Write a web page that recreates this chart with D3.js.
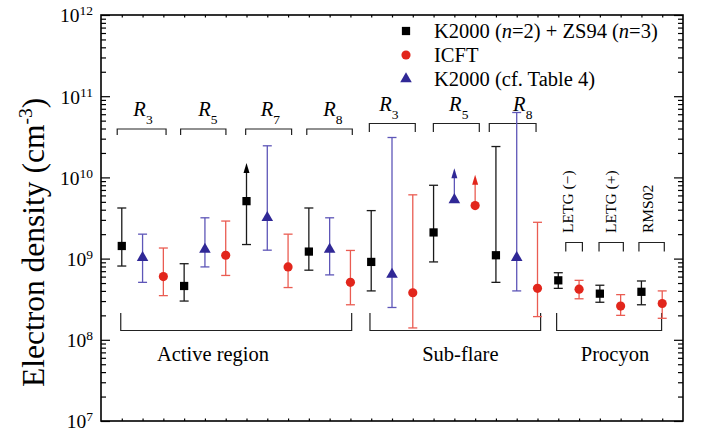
<!DOCTYPE html>
<html>
<head>
<meta charset="utf-8">
<script src="https://cdn.jsdelivr.net/npm/d3@7"></script>
<style>
body { margin: 0; background: #fff; }
</style>
</head>
<body>
<div class="graph"></div>
<script>
/*--------------- DATA -------------*/

// K2000 (n=2) + ZS94 (n=3): black squares
const sqIdx = [1, 4, 7, 10, 13, 16, 19, 22, 24, 26];
const sqVal = [1.43e9, 4.6e8, 5.1e9, 1.22e9, 9.1e8, 2.1e9, 1.1e9, 5.4e8, 3.7e8, 3.9e8];
const sqLo  = [8.1e8, 3.0e8, 1.49e9, 7.2e8, 4.0e8, 9.1e8, 5.1e8, 4.3e8, 2.9e8, 2.7e8];
const sqHi  = [4.2e9, 8.65e8, 1.5e10, 4.2e9, 3.9e9, 8.0e9, 2.4e10, 6.7e8, 4.7e8, 5.3e8];
const sqLim = [0, 0, 1, 0, 0, 0, 0, 0, 0, 0];   // 1 = lower limit (arrow up to hi)

// ICFT: red circles
const ciIdx = [3, 6, 9, 12, 15, 18, 21, 23, 25, 27];
const ciVal = [6.0e8, 1.1e9, 7.9e8, 5.1e8, 3.8e8, 4.5e9, 4.3e8, 4.2e8, 2.6e8, 2.8e8];
const ciLo  = [3.5e8, 6.2e8, 4.4e8, 2.7e8, 1.4e8, null, 1.93e8, 3.2e8, 2.0e8, 1.84e8];
const ciHi  = [1.35e9, 2.9e9, 2.0e9, 1.26e9, 6.1e9, 1.08e10, 2.8e9, 5.4e8, 3.6e8, 4.0e8];
const ciLim = [0, 0, 0, 0, 0, 1, 0, 0, 0, 0];

// K2000 (cf. Table 4): blue triangles
const trIdx = [2, 5, 8, 11, 14, 17, 20];
const trVal = [1.03e9, 1.3e9, 3.2e9, 1.3e9, 6.4e8, 5.3e9, 1.03e9];
const trLo  = [5.1e8, 7.9e8, 1.27e9, 6.3e8, 2.5e8, null, 4.0e8];
const trHi  = [2.0e9, 3.18e9, 2.45e10, 3.18e9, 3.1e10, 1.3e10, 6.3e10];
const trLim = [0, 0, 0, 0, 0, 1, 0];

// y tick decades
const yTickExp = [7, 8, 9, 10, 11, 12];

// line ratio brackets (x in point index units)
const ratioSub  = ["3", "5", "7", "8", "3", "5", "8"];
const ratioFrom = [0.78, 3.83, 6.96, 9.90, 12.91, 15.99, 18.68];
const ratioTo   = [3.13, 6.01, 9.17, 12.09, 15.12, 18.20, 20.93];
const ratioAt   = [2.02, 5.14, 8.15, 11.15, 13.85, 17.21, 20.29];

// Procyon instrument brackets
const procLabels = ["LETG (\u2212)", "LETG (+)", "RMS02"];
const procFrom   = [22.36, 23.96, 25.88];
const procTo     = [23.16, 25.13, 27.10];
const procAt     = [22.71, 24.78, 26.55];

// source groups
const groupLabels = ["Active region", "Sub-flare", "Procyon"];
const groupFrom   = [0.95, 12.94, 21.92];
const groupTo     = [12.06, 21.15, 26.97];
const groupAt     = [5.39, 17.29, 24.73];

const legendLabels = ["K2000 (n=2) + ZS94 (n=3)", "ICFT", "K2000 (cf. Table 4)"];

/*--------------- D3 STUFF -------------*/

const SIZE = {X: 702, Y: 432};
const BOX = {LEFT: 101, RIGHT: 683, TOP: 15, BOTTOM: 421};
const COL = {sq: "#000000", ci: "#e2261c", tr: "#302896",
             sqBar: "#1a1a1a", ciBar: "#ea5c52", trBar: "#5e56b8"};
const FONT = '"Liberation Serif", "Times New Roman", serif';

const svg = d3.select(".graph").append("svg")
    .attr("width", SIZE.X)
    .attr("height", SIZE.Y)
    .attr("font-family", FONT);

const x = d3.scaleLinear().domain([0, 28]).range([BOX.LEFT, BOX.RIGHT]);
const y = d3.scaleLog().domain([1e7, 1e12]).range([BOX.BOTTOM, BOX.TOP]);

// text layer: a tiny rotation keeps the glyphs unhinted so they look like Times
const txt = svg.append("g").attr("transform", "rotate(0.01, 351, 216)");

function label(parent) {
    return parent.append("text").attr("font-family", FONT).attr("fill", "#000");
}

// y ticks, major + minor, both sides pointing inward
const majors = yTickExp.map(e => Math.pow(10, e));
const minors = [];
yTickExp.slice(0, -1).forEach(e => {
    for (let m = 2; m <= 9; m++) minors.push(m * Math.pow(10, e));
});

function tickAxis(axis, vals, size, tx, ty) {
    const g = svg.append("g")
        .attr("transform", `translate(${tx},${ty})`)
        .call(axis.tickValues(vals).tickSize(size).tickFormat(""));
    g.select(".domain").remove();
    g.selectAll("text").remove();
    g.selectAll("line").attr("stroke", "#000").attr("stroke-width", 1.2);
    return g;
}
tickAxis(d3.axisRight(y), majors, 9, BOX.LEFT, 0);
tickAxis(d3.axisRight(y), minors, 5, BOX.LEFT, 0);
tickAxis(d3.axisLeft(y), majors, 9, BOX.RIGHT, 0);
tickAxis(d3.axisLeft(y), minors, 5, BOX.RIGHT, 0);

// tiny x ticks on top/bottom
const xTicks = d3.range(1, 28);
tickAxis(d3.axisTop(x), xTicks, 2.5, 0, BOX.BOTTOM);
tickAxis(d3.axisBottom(x), xTicks, 2.5, 0, BOX.TOP);

// frame
svg.append("rect")
    .attr("x", BOX.LEFT).attr("y", BOX.TOP)
    .attr("width", BOX.RIGHT - BOX.LEFT).attr("height", BOX.BOTTOM - BOX.TOP)
    .attr("fill", "none").attr("stroke", "#000").attr("stroke-width", 1.6);

// y tick labels 10^n
yTickExp.forEach(e => {
    const t = label(txt)
        .attr("x", 93).attr("y", y(Math.pow(10, e)) + 7.5)
        .attr("text-anchor", "end")
        .attr("font-size", 19.5);
    t.append("tspan").text("10");
    t.append("tspan").attr("dy", -7).attr("font-size", 13.5).text(e);
});

// y axis title
const yt = label(svg)
    .attr("transform", "translate(44,387) rotate(-90)")
    .attr("font-size", 31.5);
yt.append("tspan").text("Electron density (cm");
yt.append("tspan").attr("dy", -12).attr("font-size", 19.5).text("-3");
yt.append("tspan").attr("dy", 12).text(")");

// brackets
function bracket(x0, x1, yLine, yEnd) {
    svg.append("path")
        .attr("d", `M${x(x0)},${yEnd}V${yLine}H${x(x1)}V${yEnd}`)
        .attr("fill", "none").attr("stroke", "#222").attr("stroke-width", 1.2);
}

ratioSub.forEach((s, i) => {
    const sub = i > 3;
    bracket(ratioFrom[i], ratioTo[i], sub ? 123.5 : 129, sub ? 132 : 135);
    const t = label(txt)
        .attr("x", x(ratioAt[i])).attr("y", sub ? 111 : 116)
        .attr("text-anchor", "middle")
        .attr("font-size", 20.5);
    t.append("tspan").attr("font-style", "italic").text("R");
    t.append("tspan").attr("dy", 8).attr("font-size", 13.5).text(s);
});

procLabels.forEach((l, i) => {
    bracket(procFrom[i], procTo[i], 242.5, 251.5);
    label(svg)
        .attr("transform", `translate(${x(procAt[i])},233) rotate(-90)`)
        .attr("font-size", 15.5)
        .text(l);
});

groupLabels.forEach((l, i) => {
    bracket(groupFrom[i], groupTo[i], 330.5, 313);
    label(txt)
        .attr("x", x(groupAt[i])).attr("y", 361)
        .attr("text-anchor", "middle")
        .attr("font-size", 20.5)
        .text(l);
});

// error bars + markers
const CAP = 4.5;
function drawSeries(idx, val, lo, hi, lim, barCol, col, symbol, size) {
    const g = svg.append("g");
    idx.forEach((k, i) => {
        const cx = x(k), cy = y(val[i]);
        if (lo[i] !== null) {
            g.append("line").attr("x1", cx).attr("x2", cx)
                .attr("y1", cy).attr("y2", y(lo[i]))
                .attr("stroke", barCol).attr("stroke-width", 1.3);
            g.append("line").attr("x1", cx - CAP).attr("x2", cx + CAP)
                .attr("y1", y(lo[i])).attr("y2", y(lo[i]))
                .attr("stroke", barCol).attr("stroke-width", 1.3);
        }
        if (lim[i]) {
            const tip = y(hi[i]);
            g.append("line").attr("x1", cx).attr("x2", cx)
                .attr("y1", cy).attr("y2", tip + 9)
                .attr("stroke", barCol).attr("stroke-width", 1.3);
            g.append("path")
                .attr("d", `M${cx},${tip}L${cx - 3},${tip + 10}L${cx + 3},${tip + 10}Z`)
                .attr("fill", col);
        } else {
            g.append("line").attr("x1", cx).attr("x2", cx)
                .attr("y1", cy).attr("y2", y(hi[i]))
                .attr("stroke", barCol).attr("stroke-width", 1.3);
            g.append("line").attr("x1", cx - CAP).attr("x2", cx + CAP)
                .attr("y1", y(hi[i])).attr("y2", y(hi[i]))
                .attr("stroke", barCol).attr("stroke-width", 1.3);
        }
    });
    g.selectAll("path.mark")
        .data(idx)
        .enter()
        .append("path")
        .attr("class", "mark")
        .attr("d", d3.symbol().type(symbol).size(size))
        .attr("transform", (k, i) => `translate(${x(k)},${y(val[i])})`)
        .attr("fill", col);
}

drawSeries(sqIdx, sqVal, sqLo, sqHi, sqLim, COL.sqBar, COL.sq, d3.symbolSquare, 68);
drawSeries(trIdx, trVal, trLo, trHi, trLim, COL.trBar, COL.tr, d3.symbolTriangle, 58);
drawSeries(ciIdx, ciVal, ciLo, ciHi, ciLim, COL.ciBar, COL.ci, d3.symbolCircle, 66);

// legend
const legSym = [d3.symbolSquare, d3.symbolCircle, d3.symbolTriangle];
const legCol = [COL.sq, COL.ci, COL.tr];
const legSize = [68, 66, 58];
legendLabels.forEach((l, i) => {
    const ly = 31 + i * 24;
    svg.append("path")
        .attr("d", d3.symbol().type(legSym[i]).size(legSize[i]))
        .attr("transform", `translate(406,${ly})`)
        .attr("fill", legCol[i]);
    const t = label(txt)
        .attr("x", 434).attr("y", ly + 7)
        .attr("font-size", 20.5);
    if (i === 0) {
        t.append("tspan").text("K2000 (");
        t.append("tspan").attr("font-style", "italic").text("n");
        t.append("tspan").text("=2) + ZS94 (");
        t.append("tspan").attr("font-style", "italic").text("n");
        t.append("tspan").text("=3)");
    } else {
        t.text(l);
    }
});
</script>
</body>
</html>
